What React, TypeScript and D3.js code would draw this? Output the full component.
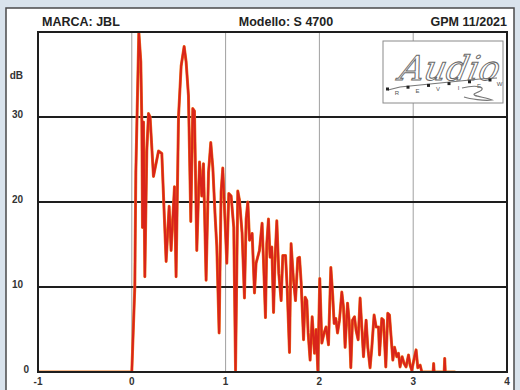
import React from "react";
import * as d3 from "d3";

const times: number[] = [-1, 0, 0.032, 0.043, 0.075, 0.096, 0.107, 0.114, 0.125, 0.139, 0.16, 0.178, 0.195, 0.231, 0.285, 0.32, 0.366, 0.398, 0.419, 0.455, 0.472, 0.498, 0.526, 0.558, 0.579, 0.604, 0.629, 0.65, 0.668, 0.693, 0.722, 0.746, 0.764, 0.792, 0.818, 0.842, 0.864, 0.888, 0.906, 0.931, 0.952, 0.97, 1.013, 1.034, 1.059, 1.087, 1.106, 1.13, 1.148, 1.176, 1.201, 1.219, 1.237, 1.255, 1.283, 1.308, 1.325, 1.361, 1.389, 1.404, 1.425, 1.439, 1.457, 1.474, 1.493, 1.511, 1.528, 1.546, 1.567, 1.592, 1.61, 1.639, 1.656, 1.681, 1.698, 1.724, 1.745, 1.77, 1.788, 1.805, 1.831, 1.848, 1.866, 1.88, 1.901, 1.923, 1.948, 1.965, 1.983, 2.004, 2.026, 2.05, 2.071, 2.097, 2.122, 2.143, 2.157, 2.175, 2.193, 2.214, 2.239, 2.257, 2.274, 2.3, 2.317, 2.335, 2.353, 2.374, 2.391, 2.413, 2.434, 2.452, 2.47, 2.498, 2.516, 2.54, 2.559, 2.583, 2.605, 2.63, 2.641, 2.665, 2.683, 2.708, 2.729, 2.747, 2.761, 2.783, 2.801, 2.825, 2.843, 2.86, 2.882, 2.903, 2.924, 2.95, 2.967, 2.985, 3.014, 3.031, 3.049, 3.074, 3.092, 3.212, 3.218, 3.224, 3.33, 3.336, 3.342, 3.45];

const levels: number[] = [0, 0, 10, 23.5, 40, 36.5, 29.4, 17, 29.4, 11.2, 26, 30.4, 30, 23, 26, 25.7, 13, 19.5, 14.3, 21.8, 11.2, 30, 36, 38.3, 36.5, 32.5, 17.7, 31, 30.7, 14.3, 24.7, 20.7, 24.5, 10.8, 23.5, 27, 24, 18.4, 14.8, 4.6, 21.2, 24, 12.8, 21, 20.7, 17, 0.2, 21.3, 20.2, 16.3, 8.7, 18, 20, 15.5, 16.3, 9.3, 12.8, 14.3, 17.5, 13.1, 6.4, 15.1, 18, 13.5, 14.7, 7, 13.5, 17.8, 11.6, 8.4, 13.7, 13.7, 10, 2.3, 15.1, 10.8, 8.4, 13.4, 13.5, 10.6, 3.8, 8.8, 8.4, 4.6, 1.4, 6.5, 2.2, 5, 0.2, 11, 3.4, 4.6, 5.3, 3.2, 12.3, 8.8, 5.7, 6.3, 4.6, 6.1, 9.4, 7.6, 2.9, 8.1, 6.1, 0.5, 6.1, 6.5, 4.9, 3.8, 8.7, 5.3, 1.8, 6.1, 2.9, 0.5, 2.9, 6.7, 5.3, 5.3, 2, 6.3, 6.1, 0.6, 6.9, 6.7, 4.6, 1.4, 2.9, 1.8, 2.2, 0.6, 1.8, 1, 0.6, 2, 0.8, 0.2, 1.8, 2.6, 0.5, 0.8, 0, 0, 1.0, 0, 0, 1.6, 0, 0];

const xTicks: number[] = [-1, 0, 1, 2, 3, 4];
const yTicks: number[] = [0, 10, 20, 30];
const yUnit = "dB";
const brand = "MARCA: JBL";
const model = "Modello: S 4700";
const issue = "GPM 11/2021";

export default function App() {
  const W = 520, H = 390;
  const L = 38, R = 507, T = 32, B = 372;
  const x = d3.scaleLinear().domain([-1, 4]).range([L, R]);
  const y = d3.scaleLinear().domain([0, 40]).range([B, T]);
  const pts: [number, number][] = times.map((t, i) => [t, levels[i]]);
  const line = d3.line<[number, number]>().x(d => x(d[0])).y(d => y(d[1]));
  const path = line(pts) || "";
  const font = "'Liberation Sans', Arial, sans-serif";

  return (
    <svg width={W} height={H} style={{ position: "absolute", left: 0, top: 0, background: "#d9e3ec" }}>
      <defs>
        <clipPath id="plotclip">
          <rect x={L} y={T - 1} width={R - L} height={B - T + 2} />
        </clipPath>
      </defs>
      <rect x={6} y={8} width={508} height={390} fill="#ffffff" stroke="#4a4a4a" strokeWidth={1.5} />
      <text x={42} y={26} fontFamily={font} fontWeight="bold" fontSize={12.5} fill="#222">{brand}</text>
      <text x={286} y={26} fontFamily={font} fontWeight="bold" fontSize={12.5} fill="#222" textAnchor="middle">{model}</text>
      <text x={507} y={26} fontFamily={font} fontWeight="bold" fontSize={12.5} fill="#222" textAnchor="end">{issue}</text>

      {xTicks.filter(t => t > -1 && t < 4).map(t => (
        <line key={"vx" + t} x1={x(t)} x2={x(t)} y1={T} y2={B} stroke="#a0a0a0" strokeWidth={1} />
      ))}
      {yTicks.filter(v => v > 0).map(v => (
        <line key={"hy" + v} x1={L} x2={R} y1={y(v)} y2={y(v)} stroke="#1e1e1e" strokeWidth={2} />
      ))}

      <g>
        <rect x={383} y={41} width={120} height={62} fill="#fff" stroke="#8a8a8a" strokeWidth={1} />
        <text x={398} y={80} fontFamily="'DejaVu Serif', serif" fontStyle="italic" fontSize={34} fill="#fff" stroke="#6a6a6a" strokeWidth={1} transform="skewX(-12) translate(17,0)">Audio</text>
        <path d="M388,90 L400,87 L420,85 L440,83 L460,81 L480,79 L497,78" fill="none" stroke="#777" strokeWidth={1.2} />
        {["R", "E", "V", "I", "E", "W"].map((c, i) => (
          <g key={"lg" + i}>
            <rect x={386 + i * 20.5} y={87.5 - i * 1.8} width={3} height={3} fill="#222" />
            <text x={397 + i * 20.5} y={95 - i * 1.8} fontFamily={font} fontSize={6} fill="#555" textAnchor="middle">{c}</text>
          </g>
        ))}
        <path d="M462,88 C478,84 490,88 476,93 C468,96 486,97 492,100 C484,101 470,99 464,97" fill="none" stroke="#777" strokeWidth={1.2} />
      </g>

      <g clipPath="url(#plotclip)">
        <path d={path} fill="none" stroke="#ef7a20" strokeWidth={3} strokeLinejoin="round" />
        <path d={path} fill="none" stroke="#d9241a" strokeWidth={2.1} strokeLinejoin="round" />
      </g>

      <rect x={L} y={T} width={R - L} height={B - T} fill="none" stroke="#1e1e1e" strokeWidth={2} />

      <text x={23} y={79} fontFamily={font} fontWeight="bold" fontSize={10} fill="#333" textAnchor="end">{yUnit}</text>
      {yTicks.map(v => (
        <text key={"yl" + v} x={v === 0 ? 29 : 23} y={y(v) + 1} fontFamily={font} fontWeight="bold" fontSize={10} fill="#333" textAnchor="end">{v}</text>
      ))}
      {xTicks.map(t => (
        <text key={"xl" + t} x={x(t)} y={385} fontFamily={font} fontWeight="bold" fontSize={10} fill="#333" textAnchor="middle">{t}</text>
      ))}
    </svg>
  );
}
